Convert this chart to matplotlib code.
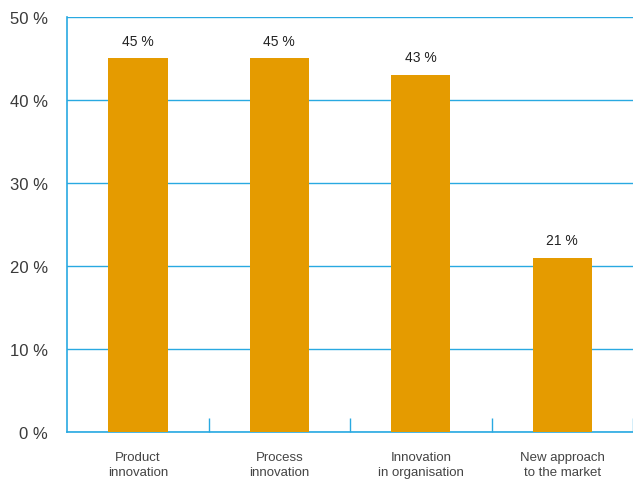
import matplotlib
matplotlib.use("Agg")
import matplotlib.pyplot as plt

categories = ["Product\ninnovation", "Process\ninnovation",
              "Innovation\nin organisation", "New approach\nto the market"]
values = [45, 45, 43, 21]
yticks = [0, 10, 20, 30, 40, 50]

blue = "#29a9e1"
bar_color = "#e59b00"

plt.rcParams['font.family'] = ['Liberation Sans', 'DejaVu Sans']

fig = plt.figure(figsize=(6.33, 4.81), dpi=100)
ax = fig.add_axes([0.106, 0.0998, 0.894, 0.8628])

x = list(range(len(categories)))
ax.bar(x, values, width=0.42, color=bar_color, zorder=3)
for xi, v in zip(x, values):
    ax.text(xi, v + 1.3, f"{v} %", ha="center", va="bottom", fontsize=10, color="#222222")

ax.set_xlim(-0.5, 3.5)
ax.set_ylim(0, 50)
ax.set_yticks(yticks)
ax.set_yticklabels([f"{t} %" for t in yticks], fontsize=12, color="#3a3a3a")
ax.yaxis.grid(True, color=blue, linewidth=1, zorder=0)
ax.tick_params(axis="y", length=0, pad=14)

# category labels at centres, small inward ticks at boundaries
ax.set_xticks(x)
ax.set_xticklabels(categories, fontsize=9.5, color="#444444", linespacing=1.3)
ax.tick_params(axis="x", length=0, pad=14)
ax.set_xticks([0.5, 1.5, 2.5, 3.5], minor=True)
ax.tick_params(axis="x", which="minor", direction="in", length=10, width=1, color=blue)

for s in ["top", "right"]:
    ax.spines[s].set_visible(False)
for s in ["left", "bottom"]:
    ax.spines[s].set_color(blue)
    ax.spines[s].set_linewidth(1.2)

fig.savefig("out.png", dpi=100)
